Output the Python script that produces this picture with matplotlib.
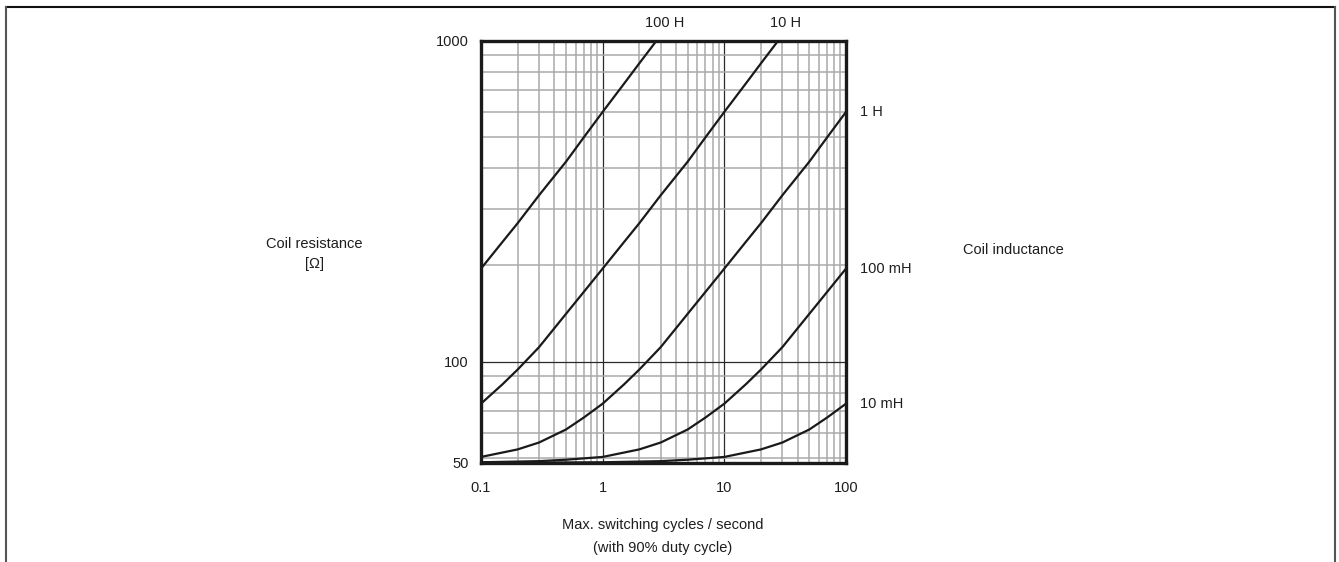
import matplotlib
matplotlib.use("Agg")
import matplotlib.pyplot as plt
from matplotlib.lines import Line2D
from matplotlib.ticker import FixedLocator, NullFormatter

plt.rcParams['font.family'] = ['Liberation Sans', 'DejaVu Sans']

# ---- data (x: cycles/s, y: coil resistance in ohm) ----
x_100H = [0.1, 0.15, 0.2, 0.3, 0.5, 0.7, 1, 1.5, 2, 2.77]
r_100H = [195, 236, 270, 330, 420, 500, 600, 735, 850, 1000]

x_10H = [0.1, 0.15, 0.2, 0.3, 0.5, 0.7, 1, 1.5, 2, 3, 5, 7, 10, 15, 20, 27.7]
r_10H = [74, 85, 94.5, 111, 141, 165, 195, 236, 270, 330, 420, 500, 600, 735, 850, 1000]

x_1H = [0.1, 0.2, 0.3, 0.5, 0.7, 1, 1.5, 2, 3, 5, 7, 10, 15, 20, 30, 50, 70, 100]
r_1H = [50.5, 53.3, 56, 61.5, 67, 74, 85, 94.5, 111, 141, 165, 195, 236, 270, 330, 420, 500, 600]

x_100mH = [0.1, 0.3, 0.5, 1, 2, 3, 5, 7, 10, 15, 20, 30, 50, 70, 100]
r_100mH = [48.6, 49.0, 49.5, 50.5, 53.3, 56, 61.5, 67, 74, 85, 94.5, 111, 141, 165, 195]

x_10mH = [0.1, 1, 3, 5, 10, 20, 30, 50, 70, 100]
r_10mH = [48.4, 48.6, 49.0, 49.5, 50.5, 53.3, 56, 61.5, 67, 74]

curve_labels = ["100 H", "10 H", "1 H", "100 mH", "10 mH"]

x_ticks = [0.1, 1, 10, 100]
x_ticklabels = ["0.1", "1", "10", "100"]
y_bottom = 48.35
y_ticks = [y_bottom, 100, 1000]
y_ticklabels = ["50", "100", "1000"]

x_label = "Max. switching cycles / second\n(with 90% duty cycle)"
y_label = "Coil resistance\n[Ω]"
right_label = "Coil inductance"

TXT = '#1e1e1e'

# ---- figure ----
fig = plt.figure(figsize=(13.39, 5.62), dpi=100)
ax = fig.add_axes([481/1339, 99/562, 365/1339, 422.3/562])
ax.set_xscale('log')
ax.set_yscale('log')
ax.set_xlim(0.1, 100)
ax.set_ylim(y_bottom, 1000)

x_minor = [m * d for d in (0.1, 1, 10) for m in range(2, 10)]
y_minor = [50, 60, 70, 80, 90] + [m * 100 for m in range(2, 10)]
ax.xaxis.set_major_locator(FixedLocator(x_ticks))
ax.xaxis.set_minor_locator(FixedLocator(x_minor))
ax.yaxis.set_major_locator(FixedLocator(y_ticks))
ax.yaxis.set_minor_locator(FixedLocator(y_minor))
ax.set_xticklabels(x_ticklabels)
ax.set_yticklabels(y_ticklabels)
ax.xaxis.set_minor_formatter(NullFormatter())
ax.yaxis.set_minor_formatter(NullFormatter())
ax.tick_params(which='both', length=0, labelsize=10.5, colors=TXT)
ax.tick_params(axis='x', pad=13)
ax.tick_params(axis='y', pad=9)

ax.grid(which='minor', color='#a9a9a9', lw=1.1, zorder=0)
ax.grid(which='major', color='#2a2a2a', lw=0.9, zorder=1)
ax.set_axisbelow(True)

for s in ax.spines.values():
    s.set_linewidth(2.4)
    s.set_color('#1a1a1a')
    s.set_zorder(5)

for xs, rs in [(x_100H, r_100H), (x_10H, r_10H), (x_1H, r_1H),
               (x_100mH, r_100mH), (x_10mH, r_10mH)]:
    ax.plot(xs, rs, color='#1a1a1a', lw=1.6, zorder=3,
            solid_capstyle='butt', solid_joinstyle='round')

# curve labels
fs = 10.5
ax.annotate(curve_labels[0], (x_100H[-1], 1000), xytext=(6, 8),
            textcoords='offset points', ha='center', va='bottom',
            fontsize=fs, color=TXT, annotation_clip=False)
ax.annotate(curve_labels[1], (x_10H[-1], 1000), xytext=(5, 8),
            textcoords='offset points', ha='center', va='bottom',
            fontsize=fs, color=TXT, annotation_clip=False)
for lab, xs, rs in [(curve_labels[2], x_1H, r_1H),
                    (curve_labels[3], x_100mH, r_100mH),
                    (curve_labels[4], x_10mH, r_10mH)]:
    ax.annotate(lab, (xs[-1], rs[-1]), xytext=(10, 0),
                textcoords='offset points', ha='left', va='center',
                fontsize=fs, color=TXT, annotation_clip=False)

fig.text(314/1339, 1 - 254/562, y_label, ha='center', va='center',
         fontsize=fs, color=TXT, linespacing=1.6)
fig.text(1013/1339, 1 - 250/562, right_label, ha='center', va='center',
         fontsize=fs, color=TXT)
fig.text(663/1339, 1 - 536.5/562, x_label, ha='center', va='center',
         fontsize=fs, color=TXT, linespacing=1.75)

# outer frame (open at the bottom)
fig.add_artist(Line2D([6/1339, 1335/1339], [1 - 7/562, 1 - 7/562],
                      transform=fig.transFigure, color='#111111', lw=1.5))
fig.add_artist(Line2D([6/1339, 6/1339], [0, 1 - 7/562],
                      transform=fig.transFigure, color='#555555', lw=1.5))
fig.add_artist(Line2D([1335/1339, 1335/1339], [0, 1 - 7/562],
                      transform=fig.transFigure, color='#555555', lw=1.5))

fig.savefig("out.png", dpi=100, facecolor='white')
